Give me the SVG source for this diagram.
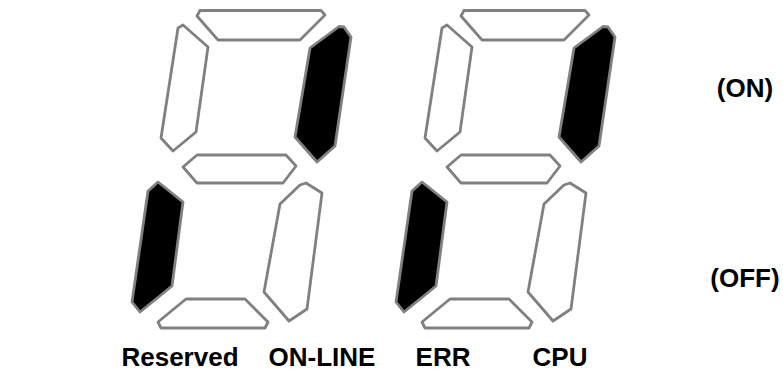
<svg xmlns="http://www.w3.org/2000/svg" width="783" height="372" viewBox="0 0 783 372">
<defs>
<style>
.seg{fill:#ffffff;stroke:#808080;stroke-width:2.8;stroke-linejoin:round}
.on{fill:#000000}
.lbl{font-family:"Liberation Sans",Arial,sans-serif;font-weight:bold;font-size:26px;fill:#000000;text-anchor:middle}
</style>
<g id="digit-shape">
<polygon id="seg-a" points="200,10.5 321,10.5 325,15 300,40 218,40 197,16"/>
<polygon id="seg-f" points="178,28 183,25 208,47 196,132 173,151 161,138"/>
<polygon id="seg-b" points="310,48 339,26.5 344,27 351,37 335,146 317,162 295,137"/>
<polygon id="seg-g" points="197,155 286,155 296,166 283,183 197,183 183,167"/>
<polygon id="seg-e" points="148,191 158,182 183,202 172,286 140,312 132,302"/>
<polygon id="seg-c" points="300,185 306,183 322,193 307,309 289,321 264,292 280,204"/>
<polygon id="seg-d" points="186,299 245,299 268,322 265,328 161,328 158,322"/>
</g>
</defs>
<rect width="783" height="372" fill="#ffffff"/>
<g id="digit1">
<use href="#seg-a" class="seg"/>
<use href="#seg-f" class="seg"/>
<use href="#seg-b" class="seg on"/>
<use href="#seg-g" class="seg"/>
<use href="#seg-e" class="seg on"/>
<use href="#seg-c" class="seg"/>
<use href="#seg-d" class="seg"/>
</g>
<g id="digit2" transform="translate(264,0)">
<use href="#seg-a" class="seg"/>
<use href="#seg-f" class="seg"/>
<use href="#seg-b" class="seg on"/>
<use href="#seg-g" class="seg"/>
<use href="#seg-e" class="seg on"/>
<use href="#seg-c" class="seg"/>
<use href="#seg-d" class="seg"/>
</g>
<g id="labels">
<text class="lbl" x="180" y="366">Reserved</text>
<text class="lbl" x="322" y="366">ON-LINE</text>
<text class="lbl" x="443" y="366">ERR</text>
<text class="lbl" x="560" y="366">CPU</text>
<text class="lbl" x="745" y="97">(ON)</text>
<text class="lbl" x="745" y="287">(OFF)</text>
</g>
</svg>
